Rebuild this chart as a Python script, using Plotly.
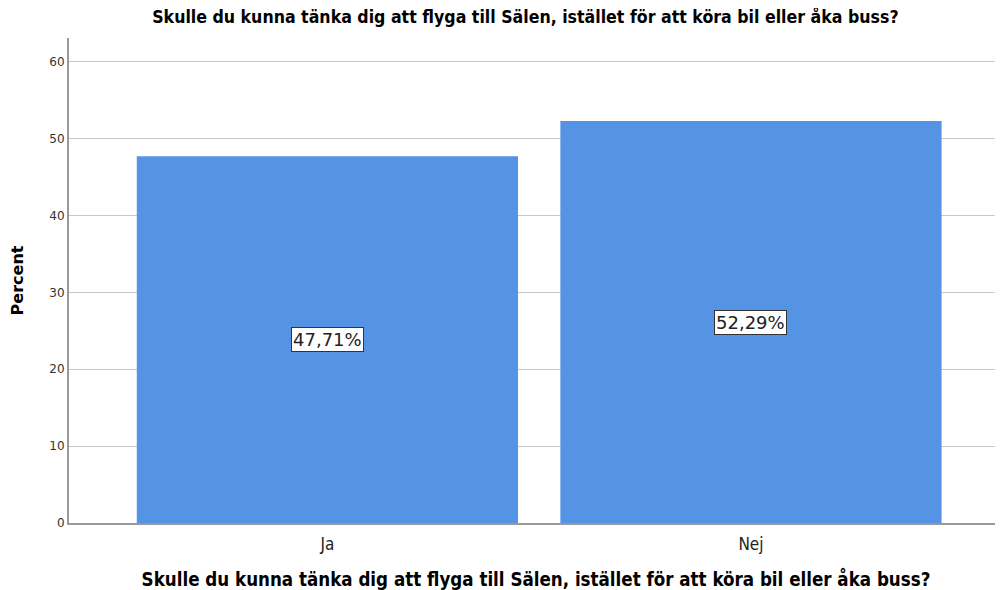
import plotly.graph_objects as go

categories = ["Ja", "Nej"]
percent = [47.71, 52.29]
value_labels = ["47,71%", "52,29%"]
y_ticks = [0, 10, 20, 30, 40, 50, 60]

question = "Skulle du kunna tänka dig att flyga till Sälen, istället för att köra bil eller åka buss?"
narrow = "Liberation Sans Narrow, Arial Narrow, DejaVu Sans Condensed, sans-serif"

fig = go.Figure()
fig.add_trace(go.Bar(
    x=[0, 1], y=percent, width=0.9,
    marker=dict(color="#5594e4", line=dict(width=0)),
    hoverinfo="skip",
))

# value labels in the middle of each bar
for i, (v, lab) in enumerate(zip(percent, value_labels)):
    fig.add_annotation(
        x=i, y=v / 2, text=lab, showarrow=False,
        font=dict(family="DejaVu Sans", size=18, color="#222"),
        bgcolor="white", bordercolor="#333", borderwidth=1, borderpad=1,
    )

# page body has an 8px margin, so the figure is a bit smaller than the window
fig.update_layout(
    width=995, height=582,
    margin=dict(l=61, r=0, t=30, b=65),
    paper_bgcolor="white", plot_bgcolor="white",
    showlegend=False,
    title=dict(text="<b>" + question + "</b>", x=0.52, xanchor="center",
               y=1 - 9 / 582, yanchor="middle",
               font=dict(family=narrow, size=17.6, color="black")),
    xaxis=dict(
        range=[-0.61, 1.595], tickvals=[0, 1], ticktext=categories,
        showgrid=False, zeroline=False, ticks="",
        showline=True, linecolor="#999", linewidth=2,
        ticklabelstandoff=5,
        tickfont=dict(family=narrow, size=17, color="#222"),
        title=dict(text="<b>" + question + "</b>", standoff=23,
                   font=dict(family=narrow, size=18.6, color="black")),
    ),
    yaxis=dict(
        range=[0, 63.1], tickvals=y_ticks,
        showgrid=True, gridcolor="#c8c8c8", gridwidth=1,
        zeroline=False, showline=True, linecolor="#999", linewidth=2,
        ticks="", ticklen=0,
        tickfont=dict(family="DejaVu Sans", size=12, color="#333"),
        title=dict(text="<b>Percent</b>", standoff=22,
                   font=dict(family="DejaVu Sans", size=16, color="black")),
    ),
)

fig.write_html("out.html")
